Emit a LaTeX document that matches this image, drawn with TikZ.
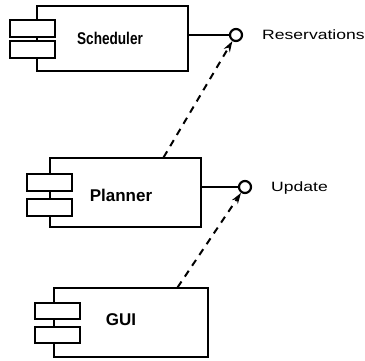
\documentclass[tikz,border=0pt]{standalone}
\usepackage{fontspec}
\setmainfont{Liberation Sans}
\newfontfamily\compfont{Liberation Sans}[BoldFont={* Bold}]
\newfontfamily\narrowfont{Liberation Sans}[FakeStretch=0.8]
\newfontfamily\widefont{Liberation Sans}[FakeStretch=1.3]
\usetikzlibrary{arrows.meta,calc}
\begin{document}
\begin{tikzpicture}[x=1pt,y=-1pt,
  compbox/.style={draw, line width=1.3pt, fill=white, inner sep=0pt},
  comptab/.style={draw, line width=2pt, fill=white, minimum width=45, minimum height=16.5, inner sep=0pt},
  iface/.style={circle, draw, line width=2.2pt, fill=white, minimum size=12, inner sep=0pt},
  ifaceline/.style={line width=1.3pt},
  dep/.style={line width=2pt, dash pattern=on 7pt off 6pt, -{Stealth[length=11pt,width=7pt]}},
  clabel/.style={font=\compfont\bfseries\fontsize{17}{19}\selectfont, inner sep=0pt},
  ilabel/.style={font=\widefont\fontsize{13.5}{15}\selectfont, anchor=west, inner sep=0pt}
]
\useasboundingbox (0,0) rectangle (365,360);

% Scheduler component
\node[compbox, minimum width=151, minimum height=65] (sched) at (112.5,38.5) {};
\node[comptab] (schedt1) at (32,28.5) {};
\node[comptab] (schedt2) at (32,49.5) {};
\node[clabel, font=\narrowfont\bfseries\fontsize{17}{19}\selectfont] (schedl) at (110,38) {Scheduler};

% Planner component
\node[compbox, minimum width=151, minimum height=69] (plan) at (125.5,192.5) {};
\node[comptab] (plant1) at (49.5,182.5) {};
\node[comptab] (plant2) at (49.5,207.5) {};
\node[clabel] (planl) at (121,195) {Planner};

% GUI component
\node[compbox, minimum width=154, minimum height=69] (gui) at (131,322.5) {};
\node[comptab] (guit1) at (57,311) {};
\node[comptab] (guit2) at (57,335) {};
\node[clabel] (guil) at (121,320) {GUI};

% Provided interfaces
\node[iface] (res) at (236,35) {};
\node[iface] (upd) at (245,187) {};
\draw[ifaceline] (sched.east |- res) -- (res);
\draw[ifaceline] (plan.east |- upd) -- (upd);
\node[ilabel] (resl) at (262,35) {Reservations};
\node[ilabel] (updl) at (271,188) {Update};

% Usage dependencies
\coordinate (planTop) at ($(plan.north west)!0.75!(plan.north east)$);
\coordinate (guiTop) at ($(gui.north west)!0.8!(gui.north east)$);
\draw[dep] (planTop) -- (res);
\draw[dep] (guiTop) -- (upd);
\end{tikzpicture}
\end{document}
